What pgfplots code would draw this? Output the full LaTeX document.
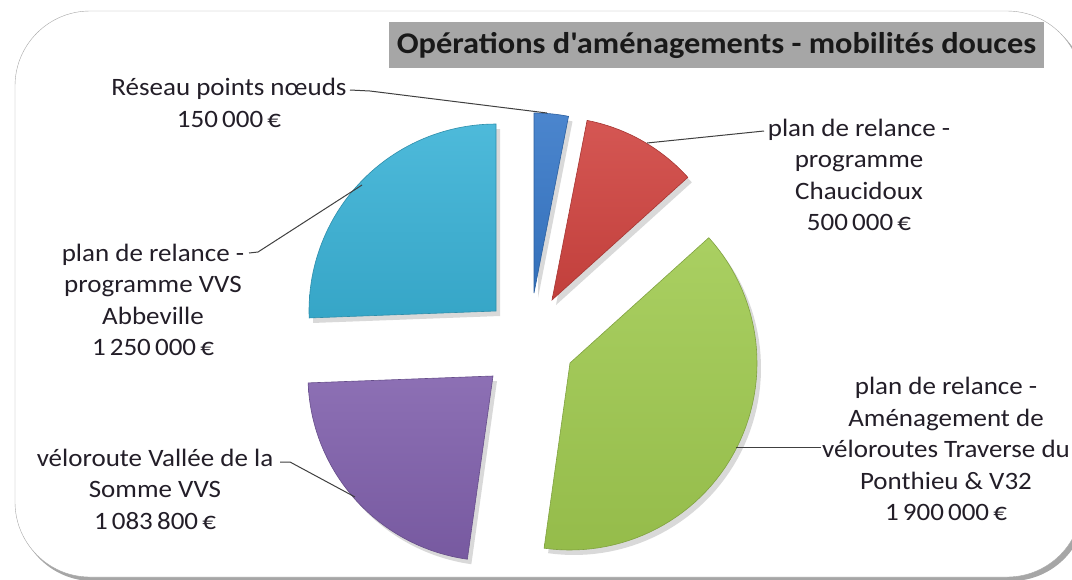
\documentclass[border=0pt]{standalone}
\usepackage{fontspec}
\setmainfont{Carlito}[Ligatures=TeXOff, FakeStretch=1.08]
\usepackage{pgfplots}
\pgfplotsset{compat=1.18}
\definecolor{cCyan}{RGB}{58,178,214}
\definecolor{cBlue}{RGB}{55,120,200}
\definecolor{cRed}{RGB}{208,68,64}
\definecolor{cGreen}{RGB}{160,202,80}
\definecolor{cPurple}{RGB}{128,96,172}
\definecolor{titlegray}{RGB}{166,166,166}
\definecolor{txt}{RGB}{35,30,40}

% data (thousands of euros)
\def\vA{150}\def\vB{500}\def\vC{1900}\def\vD{1083.8}\def\vE{1250}
\pgfmathsetmacro\tot{\vA+\vB+\vC+\vD+\vE}
\pgfmathsetmacro\aA{90}
\pgfmathsetmacro\aB{\aA-360*(\vA/\tot)}
\pgfmathsetmacro\aC{\aB-360*(\vB/\tot)}
\pgfmathsetmacro\aD{\aC-360*(\vC/\tot)}
\pgfmathsetmacro\aE{\aD-360*(\vD/\tot)}
\pgfmathsetmacro\aF{\aE-360*(\vE/\tot)}

% color, cx, cy, r, from, to
\newcommand\slice[6]{%
  \addplot[fill=black, fill opacity=0.15, draw=none, domain=#5:#6, samples=60, variable=\t]
    ({#2+4+#4*cos(\t)},{#3+5-#4*sin(\t)}) -- (axis cs:#2+4,#3+5) -- cycle;
  \addplot[top color=#1!90!white, bottom color=#1!93!black, draw=#1!80!black, line width=0.6bp, domain=#5:#6, samples=60, variable=\t]
    ({#2+#4*cos(\t)},{#3-#4*sin(\t)}) -- (axis cs:#2,#3) -- cycle;
}

\begin{document}
\begin{tikzpicture}
\begin{axis}[width=1072bp, height=580bp, scale only axis,
  xmin=0, xmax=1072, ymin=0, ymax=580, y dir=reverse,
  axis lines=none, clip=false]
% frame
\fill[black, opacity=0.35, rounded corners=75bp] (18,15) rectangle (1086,581);
\draw[gray!70, fill=white, rounded corners=75bp] (15,11) rectangle (1082,577);
% title
\fill[titlegray] (389,22) rectangle (1044,68);
\node[font=\fontsize{30bp}{32bp}\selectfont\bfseries, text=black!90] at (716.5,45) {Opérations d'aménagements - mobilités douces};
% slices
\slice{cBlue}{534}{293}{180}{\aB}{\aA}
\slice{cRed}{552}{300}{183}{\aC}{\aB}
\slice{cGreen}{570}{363}{187}{\aD}{\aC}
\slice{cPurple}{493}{376}{185}{\aE}{\aD}
\slice{cCyan}{496}{311}{187}{\aF}{\aE}
% leader lines
\draw[black!75, line width=1bp] (350,90) -- (370,91) -- (547,113);
\draw[black!75, line width=1bp] (764,131) -- (647,143);
\draw[black!75, line width=1bp] (249,253) -- (258,252) -- (362,185);
\draw[black!75, line width=1bp] (280,462) -- (290,462) -- (355,497);
\draw[black!75, line width=1bp] (821,447) -- (736,447);
% labels
\tikzset{lbl/.style={align=center, text=txt, font=\fontsize{25bp}{31.5bp}\selectfont, inner sep=0pt}}
\node[lbl] at (229,103) {Réseau points nœuds\\150\,000\,€};
\node[lbl] at (859,175) {plan de relance -\\programme\\Chaucidoux\\500\,000\,€};
\node[lbl] at (153,300) {plan de relance -\\programme VVS\\Abbeville\\1\,250\,000\,€};
\node[lbl] at (155,489) {véloroute Vallée de la\\Somme VVS\\1\,083\,800\,€};
\node[lbl] at (946,449) {plan de relance -\\Aménagement de\\véloroutes Traverse du\\Ponthieu \& V32\\1\,900\,000\,€};
\end{axis}
\pgfresetboundingbox
\path[use as bounding box] (0,0) rectangle (1072bp,580bp);
\end{tikzpicture}
\end{document}
